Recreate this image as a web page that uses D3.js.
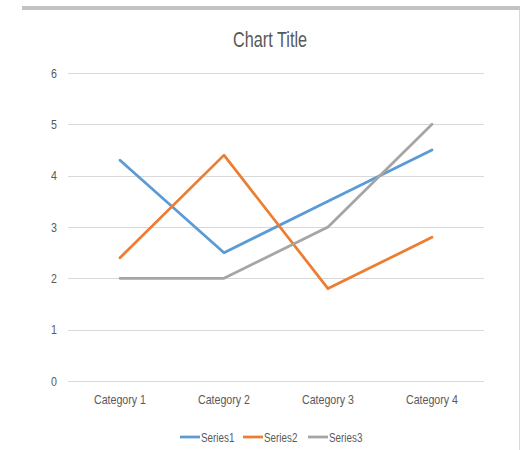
<!DOCTYPE html>
<html>
<head>
<meta charset="utf-8">
<script src="https://cdn.jsdelivr.net/npm/d3@7"></script>
<style>
  html, body { margin: 0; padding: 0; background: #fff; }
  svg text { font-family: "Liberation Sans", Arial, sans-serif; fill: #595959; }
</style>
</head>
<body>
<svg id="chart" width="520" height="450"></svg>
<script>
// Chart data
const categories = ["Category 1", "Category 2", "Category 3", "Category 4"];
const seriesNames = ["Series1", "Series2", "Series3"];
const series1 = [4.3, 2.5, 3.5, 4.5];
const series2 = [2.4, 4.4, 1.8, 2.8];
const series3 = [2, 2, 3, 5];
const yTicks = [0, 1, 2, 3, 4, 5, 6];
const colors = ["#5B9BD5", "#ED7D31", "#A5A5A5"];

const allSeries = [series1, series2, series3];
const narrow = "scale(0.82,1)"; // condensed lettering

const svg = d3.select("#chart");

// Frame: grey band on top and thin line on the right
svg.append("rect").attr("x", 22).attr("y", 6).attr("width", 498).attr("height", 4).attr("fill", "#c3c3c3");
svg.append("line").attr("x1", 519.5).attr("x2", 519.5).attr("y1", 10).attr("y2", 450)
  .attr("stroke", "#d9d9d9").attr("stroke-width", 1);

const x = d3.scaleBand().domain(categories).range([68, 484]);
const y = d3.scaleLinear().domain([0, 6]).range([381, 73]);

// Title
svg.append("g").attr("transform", "translate(270,47)")
  .append("text")
  .attr("text-anchor", "middle")
  .attr("transform", "scale(0.74,1)")
  .style("font-size", "22px")
  .text("Chart Title");

// Horizontal gridlines
svg.append("g").selectAll("line").data(yTicks).join("line")
  .attr("x1", 68).attr("x2", 484)
  .attr("y1", d => Math.round(y(d)) + 0.5).attr("y2", d => Math.round(y(d)) + 0.5)
  .attr("stroke", "#d9d9d9").attr("stroke-width", 1);

// Y-axis labels
const yAxis = d3.axisLeft(y).tickValues(yTicks).tickSize(0).tickPadding(0).tickFormat(d3.format("d"));
const gy = svg.append("g").attr("transform", "translate(57,0)").call(yAxis);
gy.select(".domain").remove();
gy.selectAll("text").style("font-size", "13px").attr("fill", "#595959").attr("font-family", null)
  .attr("transform", narrow);

// X-axis labels
const xAxis = d3.axisBottom(x).tickSize(0).tickPadding(0);
const gx = svg.append("g").attr("transform", "translate(0,395)").call(xAxis);
gx.select(".domain").remove();
gx.selectAll("text").style("font-size", "13px").attr("fill", "#595959").attr("font-family", null)
  .attr("transform", narrow);

// Series lines
const line = d3.line()
  .x((d, i) => x(categories[i]) + x.bandwidth() / 2)
  .y(d => y(d));

svg.append("g").selectAll("path").data(allSeries).join("path")
  .attr("d", d => line(d))
  .attr("fill", "none")
  .attr("stroke", (d, i) => colors[i])
  .attr("stroke-width", 2.75)
  .attr("stroke-linejoin", "round")
  .attr("stroke-linecap", "round");

// Legend
const legendX = [180, 243, 308];
const lg = svg.append("g").selectAll("g").data(seriesNames).join("g")
  .attr("transform", (d, i) => `translate(${legendX[i]},437)`);
lg.append("line").attr("x1", 0).attr("x2", 20).attr("y1", 0).attr("y2", 0)
  .attr("stroke", (d, i) => colors[i]).attr("stroke-width", 2.75);
lg.append("g").attr("transform", "translate(21,4.5)")
  .append("text")
  .attr("transform", narrow)
  .style("font-size", "12px")
  .text(d => d);
</script>
</body>
</html>
